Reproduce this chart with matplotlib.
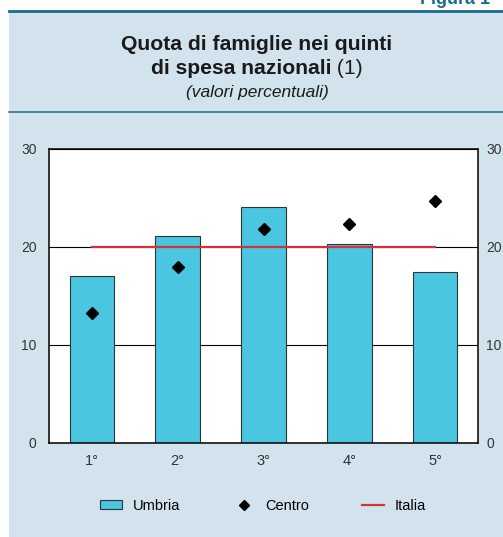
import matplotlib
matplotlib.use("Agg")
import matplotlib.pyplot as plt
from matplotlib.patches import Rectangle, Patch
from matplotlib.lines import Line2D

plt.rcParams['font.family'] = ['Liberation Sans', 'DejaVu Sans']

quintili = ['1°', '2°', '3°', '4°', '5°']
umbria = [17.0, 21.1, 24.1, 20.3, 17.4]
centro = [13.3, 18.0, 21.8, 22.3, 24.7]
italia = [20, 20, 20, 20, 20]

W, H = 503, 537
fig = plt.figure(figsize=(W / 100, H / 100), dpi=100)

# sfondo azzurro del riquadro
fig.patches.append(Rectangle((9 / W, 0), 1, (H - 11) / H, transform=fig.transFigure,
                             facecolor='#d2e3ee', edgecolor='none', zorder=-10))
fig.add_artist(Line2D([9 / W, 1], [(H - 11) / H] * 2, color='#1b6a90', lw=2))
fig.add_artist(Line2D([9 / W, 1], [(H - 112) / H] * 2, color='#1b6a90', lw=1.1))

fig.text(420 / W, (H - 4) / H, 'Figura 1', color='#1b6a90', fontsize=13,
         fontweight='bold', ha='left', va='baseline')

# titolo
cx = 257 / W
fig.text(cx, (H - 44) / H, 'Quota di famiglie nei quinti', fontsize=15.2,
         fontweight='bold', ha='center', va='center', color='#1a1a1a')
t1 = fig.text(0, (H - 68) / H, 'di spesa nazionali', fontsize=15.2,
              fontweight='bold', ha='left', va='center', color='#1a1a1a')
t2 = fig.text(0, (H - 68) / H, ' (1)', fontsize=15.2, ha='left', va='center',
              color='#1a1a1a')
fig.canvas.draw()
r = fig.canvas.get_renderer()
w1 = t1.get_window_extent(r).width / W
w2 = t2.get_window_extent(r).width / W
x0 = cx - (w1 + w2) / 2
t1.set_x(x0)
t2.set_x(x0 + w1)
fig.text(cx, (H - 92) / H, '(valori percentuali)', fontsize=12.5, style='italic',
         ha='center', va='center', color='#1a1a1a')

ax = fig.add_axes([49 / W, (H - 443) / H, (478 - 49) / W, (443 - 149) / H])
ax.set_facecolor('white')
x = range(len(quintili))
ax.bar(x, umbria, width=0.52, color='#4ac6e0', edgecolor='#333333', linewidth=0.8,
       zorder=2, label='Umbria')
ax.plot(x, italia, color='#d0343a', lw=1.6, zorder=3, label='Italia')
ax.plot(x, centro, linestyle='none', marker='D', markersize=6, color='black',
        zorder=4, label='Centro')

ax.set_xlim(-0.5, 4.5)
ax.set_ylim(0, 30)
ax.set_yticks([0, 10, 20, 30])
ax.set_xticks(list(x))
ax.set_xticklabels(quintili)
ax.yaxis.grid(True, color='black', lw=0.8, zorder=1)
ax.set_axisbelow(True)
ax.tick_params(axis='y', length=0, labelsize=10, pad=9, colors='#333333',
               labelright=True)
ax.tick_params(axis='x', length=0, labelsize=10.5, pad=8, colors='#333333')
for sp in ax.spines.values():
    sp.set_linewidth(1.1)
    sp.set_color('black')

# etichette a destra più vicine all'asse
for t in ax.yaxis.get_major_ticks():
    t.label2.set_x(0.99)

handles = [Patch(facecolor='#4ac6e0', edgecolor='#333333', linewidth=0.8),
           Line2D([], [], linestyle='none', marker='D', markersize=5, color='black'),
           Line2D([], [], color='#d0343a', lw=1.6)]
fig.legend(handles, ['Umbria', 'Centro', 'Italia'], loc='center', ncol=3,
           bbox_to_anchor=(263 / W, (H - 506) / H), frameon=False, fontsize=10.5,
           columnspacing=3.6, handlelength=1.5, handleheight=0.6, handletextpad=0.75)

fig.savefig('out.png', dpi=100)
